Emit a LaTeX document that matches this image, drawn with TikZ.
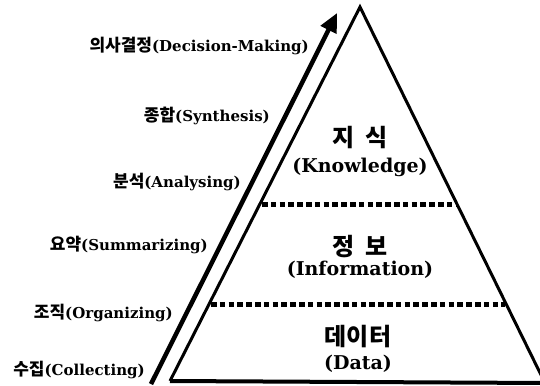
\documentclass[tikz,border=0pt]{standalone}
\usepackage{fontspec}
\setmainfont{DejaVu Serif}
\newfontfamily\krfont{Noto Sans CJK KR}
\usetikzlibrary{arrows.meta}
% a Korean word in bold sans, followed by its English gloss in bold serif
\newcommand{\kren}[2]{{\krfont\bfseries\fontsize{17}{19}\selectfont #1}{\bfseries #2}}
\newcommand{\krgap}{\hspace{0.45em}}
\tikzset{
  side/.style={line width=3pt, line join=miter},
  base/.style={line width=4pt},
  levelsep/.style={line width=5pt, dash pattern=on 5.6pt off 3.2pt},
  process/.style={line width=4.5pt, -{Triangle[length=19pt,width=17pt]}},
  steplabel/.style={anchor=east, inner sep=0pt, font=\fontsize{15}{18}\selectfont},
  levelkr/.style={inner sep=0pt, font=\fontsize{24}{26}\krfont\bfseries},
  levelen/.style={inner sep=0pt, font=\fontsize{19}{22}\selectfont\bfseries}
}
\begin{document}
\begin{tikzpicture}[x=1pt,y=-1pt]
\useasboundingbox (0,0) rectangle (540,385);
% pyramid corners
\coordinate (apex) at (360,7);
\coordinate (bl) at (170,381);
\coordinate (br) at (545,383);
\draw[side] (bl) -- (apex) -- (br);
\draw[base] (bl) -- (br);
% level separators
\coordinate (s1l) at (262,204);
\coordinate (s1r) at (456,204);
\coordinate (s2l) at (211,304);
\coordinate (s2r) at (505,304);
\draw[levelsep] (s1l) -- (s1r);
\draw[levelsep] (s2l) -- (s2r);
% process arrow
\coordinate (pstart) at (151,384);
\coordinate (pend) at (337,13);
\draw[process] (pstart) -- (pend);
% process steps
\node[steplabel] (decide) at (309,46) {\kren{의사결정}{(Decision-Making)}};
\node[steplabel] (synth) at (270,116) {\kren{종합}{(Synthesis)}};
\node[steplabel] (analyse) at (241,182) {\kren{분석}{(Analysing)}};
\node[steplabel] (summ) at (208,245) {\kren{요약}{(Summarizing)}};
\node[steplabel] (organ) at (173,313) {\kren{조직}{(Organizing)}};
\node[steplabel] (collect) at (145,370) {\kren{수집}{(Collecting)}};
% pyramid levels
\node[levelkr] (knowkr) at (360,138) {지\krgap 식};
\node[levelen] (knowen) at (360,167) {(Knowledge)};
\node[levelkr] (infokr) at (360,247) {정\krgap 보};
\node[levelen] (infoen) at (360,270) {(Information)};
\node[levelkr] (datakr) at (358,337) {데이터};
\node[levelen] (dataen) at (358,364) {(Data)};
\end{tikzpicture}
\end{document}
